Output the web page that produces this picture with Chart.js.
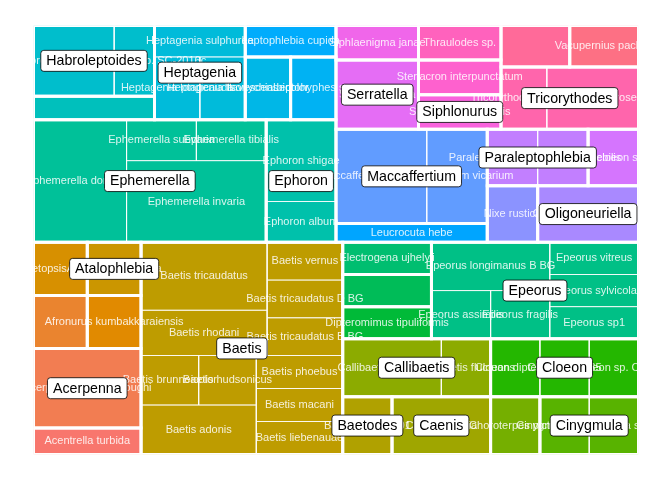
<!DOCTYPE html>
<html>
<head>
<meta charset="utf-8">
<script src="https://cdn.jsdelivr.net/npm/chart.js@4.4.1/dist/chart.umd.min.js"></script>
<style>
  html, body { margin: 0; padding: 0; background: #fff; }
  #wrap { width: 672px; height: 480px; }
</style>
</head>
<body>
<div id="wrap"><canvas id="treemap" width="672" height="480"></canvas></div>
<script>
// genera, alphabetical (this order drives the hue palette)
const genera = [
  'Acentrella', 'Acerpenna', 'Adenophlebia', 'Afronurus', 'Ameletopsis', 'Atalophlebia',
  'Baetis', 'Baetodes', 'Caenis', 'Callibaetis', 'Choroterpes', 'Cinygmula', 'Cloeon',
  'Dipteromimus', 'Drunella', 'Electrogena', 'Epeorus', 'Ephemerella', 'Ephoron',
  'Eurylophella', 'Habroleptoides', 'Heptagenia', 'Isonychia', 'Leptohyphes', 'Leptophlebia',
  'Leucrocuta', 'Maccaffertium', 'Nixe', 'Oligoneuriella', 'Paraleptophlebia', 'Procloeon',
  'Serratella', 'Siphlaenigma', 'Siphlonurus', 'Stenacron', 'Thraulodes', 'Tricorythodes',
  'Ulmeritoides', 'Vacupernius'
];

// one tile per species (the first word is the genus)
const species = [
  'Habroleptoides confusa', 'Habroleptoides sp. SC-2016c', 'Eurylophella',
  'Heptagenia sulphurea', 'Heptagenia longicauda', 'Heptagenia flavescens',
  'Leptophlebia cupida', 'Isonychia bicolor', 'Leptohyphes sp.',
  'Ephemerella dorothea', 'Ephemerella subvaria', 'Ephemerella tibialis', 'Ephemerella invaria',
  'Ephoron shigae', 'Ephoron album',
  'Siphlaenigma janae', 'Serratella ignita', 'Thraulodes sp.', 'Stenacron interpunctatum',
  'Siphlonurus lacustris', 'Ulmeritoides', 'Vacupernius packeri',
  'Tricorythodes allectus', 'Tricorythodes rosei',
  'Maccaffertium modestum', 'Maccaffertium vicarium', 'Leucrocuta hebe',
  'Paraleptophlebia adoptiva', 'Paraleptophlebia debilis', 'Procloeon sp.',
  'Nixe rustica', 'Oligoneuriella rhenana',
  'Ameletopsis perscitus', 'Atalophlebia ornata', 'Adenophlebia', 'Afronurus kumbakkaraiensis',
  'Acerpenna macdunnoughi', 'Acentrella turbida',
  'Baetis tricaudatus', 'Baetis rhodani', 'Baetis vernus', 'Baetis tricaudatus D BG',
  'Baetis tricaudatus B BG', 'Baetis brunneicolor', 'Baetis hudsonicus', 'Baetis adonis',
  'Baetis phoebus', 'Baetis macani', 'Baetis liebenauae',
  'Electrogena ujhelyii', 'Drunella', 'Dipteromimus tipuliformis',
  'Epeorus longimanus B BG', 'Epeorus assimilis', 'Epeorus fragilis',
  'Epeorus vitreus', 'Epeorus sylvicola', 'Epeorus sp1',
  'Callibaetis ferrugineus', 'Callibaetis fluctuans', 'Baetodes sp. B01', 'Caenis horaria',
  'Cloeon dipterum', 'Cloeon sp. 035', 'Cloeon sp. CL1',
  'Choroterpes picteti', 'Cinygmula ramaleyi', 'Cinygmula sp.'
];
const records = [
  2, 1, 1,
  1, 1, 1,
  1, 1, 1,
  4, 1, 1, 4,
  2, 1,
  1, 2, 1, 1,
  1, 1, 1,
  1, 2,
  3, 2, 1,
  1, 1, 1,
  1, 2,
  1, 1, 1, 1,
  3, 1,
  3, 2, 1, 1,
  1, 1, 1, 2,
  1, 1, 1,
  1, 1, 1,
  2, 1, 1,
  1, 1, 1,
  2, 1, 1, 2,
  1, 1, 1,
  1, 1, 1
];

// tiles that carry no species text in the figure
const noText = ['Eurylophella', 'Ulmeritoides', 'Adenophlebia', 'Drunella'];

// genera that get a boxed label
const labelled = [
  'Habroleptoides', 'Heptagenia', 'Ephemerella', 'Ephoron', 'Serratella', 'Siphlonurus',
  'Tricorythodes', 'Maccaffertium', 'Paraleptophlebia', 'Oligoneuriella', 'Atalophlebia',
  'Acerpenna', 'Baetis', 'Epeorus', 'Callibaetis', 'Cloeon', 'Baetodes', 'Caenis', 'Cinygmula'
];

// nesting of the tiles: 'h' splits left to right, 'v' top to bottom
const arrangement = ['v',
  ['h',
    ['v',
      ['h',
        ['v', ['h', 'Habroleptoides confusa', 'Habroleptoides sp. SC-2016c'], 'Eurylophella'],
        ['v', 'Heptagenia sulphurea', ['h', 'Heptagenia longicauda', 'Heptagenia flavescens']],
        ['v', 'Leptophlebia cupida', ['h', 'Isonychia bicolor', 'Leptohyphes sp.']]
      ],
      ['h',
        ['h', 'Ephemerella dorothea',
          ['v', ['h', 'Ephemerella subvaria', 'Ephemerella tibialis'], 'Ephemerella invaria']],
        ['v', 'Ephoron shigae', 'Ephoron album']
      ]
    ],
    ['v',
      ['h',
        ['v', 'Siphlaenigma janae', 'Serratella ignita'],
        ['v', 'Thraulodes sp.', 'Stenacron interpunctatum', 'Siphlonurus lacustris'],
        ['v', ['h', 'Ulmeritoides', 'Vacupernius packeri'],
              ['h', 'Tricorythodes allectus', 'Tricorythodes rosei']]
      ],
      ['h',
        ['v', ['h', 'Maccaffertium modestum', 'Maccaffertium vicarium'], 'Leucrocuta hebe'],
        ['v', ['h', 'Paraleptophlebia adoptiva', 'Paraleptophlebia debilis', 'Procloeon sp.'],
              ['h', 'Nixe rustica', 'Oligoneuriella rhenana']]
      ]
    ]
  ],
  ['h',
    ['v', ['h', 'Ameletopsis perscitus', 'Atalophlebia ornata'],
          ['h', 'Adenophlebia', 'Afronurus kumbakkaraiensis'],
          'Acerpenna macdunnoughi', 'Acentrella turbida'],
    ['v',
      ['h', ['v', 'Baetis tricaudatus', 'Baetis rhodani'],
            ['v', 'Baetis vernus', 'Baetis tricaudatus D BG', 'Baetis tricaudatus B BG']],
      ['h', ['v', ['h', 'Baetis brunneicolor', 'Baetis hudsonicus'], 'Baetis adonis'],
            ['v', 'Baetis phoebus', 'Baetis macani', 'Baetis liebenauae']]
    ],
    ['v',
      ['h',
        ['v', 'Electrogena ujhelyii', 'Drunella', 'Dipteromimus tipuliformis'],
        ['h', ['v', 'Epeorus longimanus B BG', ['h', 'Epeorus assimilis', 'Epeorus fragilis']],
              ['v', 'Epeorus vitreus', 'Epeorus sylvicola', 'Epeorus sp1']]
      ],
      ['h',
        ['v', ['h', 'Callibaetis ferrugineus', 'Callibaetis fluctuans'],
              ['h', 'Baetodes sp. B01', 'Caenis horaria']],
        ['v', ['h', 'Cloeon dipterum', 'Cloeon sp. 035', 'Cloeon sp. CL1'],
              ['h', 'Choroterpes picteti', 'Cinygmula ramaleyi', 'Cinygmula sp.']]
      ]
    ]
  ]
];

// ggplot-style hue palette (polar LUV -> sRGB)
function hcl(h, c, l) {
  const rad = h * Math.PI / 180;
  const u = c * Math.cos(rad), v = c * Math.sin(rad);
  const Xn = 95.047, Yn = 100, Zn = 108.883;
  const un = 4 * Xn / (Xn + 15 * Yn + 3 * Zn), vn = 9 * Yn / (Xn + 15 * Yn + 3 * Zn);
  const Y = Yn * (l > 8 ? Math.pow((l + 16) / 116, 3) : l / 903.3);
  const up = u / (13 * l) + un, vp = v / (13 * l) + vn;
  const X = 9 * Y * up / (4 * vp);
  const Z = -X / 3 - 5 * Y + 3 * Y / vp;
  const lin = [
    3.240479 * X - 1.537150 * Y - 0.498535 * Z,
    -0.969256 * X + 1.875992 * Y + 0.041556 * Z,
    0.055648 * X - 0.204043 * Y + 1.057311 * Z
  ].map(t => t / 100);
  const gam = t => t > 0.00304 ? 1.055 * Math.pow(t, 1 / 2.4) - 0.055 : 12.92 * t;
  return 'rgb(' + lin.map(t => Math.round(255 * Math.min(1, Math.max(0, gam(t))))).join(',') + ')';
}
const genusColour = {};
genera.forEach((g, i) => { genusColour[g] = hcl(15 + 360 * i / genera.length, 100, 65); });

const countOf = {};
species.forEach((s, i) => { countOf[s] = records[i]; });
const genusOf = s => s.split(' ')[0];

function weight(node) {
  if (typeof node === 'string') return countOf[node];
  return node.slice(1).reduce((sum, k) => sum + weight(k), 0);
}

// slice the unit square following the arrangement, sizes from the record counts
function place(node, x0, y0, x1, y1, out) {
  if (typeof node === 'string') { out.push({ id: node, x0, y0, x1, y1 }); return; }
  const dir = node[0];
  const total = weight(node);
  let acc = 0;
  node.slice(1).forEach(k => {
    const a = acc / total, b = (acc + weight(k)) / total;
    if (dir === 'h') place(k, x0 + (x1 - x0) * a, y0, x0 + (x1 - x0) * b, y1, out);
    else place(k, x0, y0 + (y1 - y0) * a, x1, y0 + (y1 - y0) * b, out);
    acc += weight(k);
  });
}
const tiles = [];
place(arrangement, 0, 0, 1, 1, tiles);

// genus blocks = bounding box of their tiles
const blocks = {};
tiles.forEach(t => {
  const g = genusOf(t.id);
  const b = blocks[g] || (blocks[g] = { x0: 1, y0: 1, x1: 0, y1: 0 });
  b.x0 = Math.min(b.x0, t.x0); b.y0 = Math.min(b.y0, t.y0);
  b.x1 = Math.max(b.x1, t.x1); b.y1 = Math.max(b.y1, t.y1);
});

const outline = r => [
  { x: r.x0, y: r.y0 }, { x: r.x1, y: r.y0 }, { x: r.x1, y: r.y1 },
  { x: r.x0, y: r.y1 }, { x: r.x0, y: r.y0 }
];

const frameSets = Object.keys(blocks).map(g => ({
  data: outline(blocks[g]),
  borderColor: '#ffffff',
  borderWidth: 3,
  borderCapStyle: 'square',
  fill: false,
  order: 0
}));
const tileSets = tiles.map(t => ({
  data: outline(t),
  backgroundColor: genusColour[genusOf(t.id)],
  borderColor: 'rgba(255,255,255,0.7)',
  borderWidth: 1,
  fill: 'shape',
  order: 1
}));

const textPlugin = {
  id: 'treemapText',
  afterDatasetsDraw(chart) {
    const { ctx, chartArea } = chart;
    const xs = chart.scales.x, ys = chart.scales.y;
    ctx.save();
    ctx.beginPath();
    ctx.rect(chartArea.left, chartArea.top, chartArea.right - chartArea.left, chartArea.bottom - chartArea.top);
    ctx.clip();
    ctx.textAlign = 'center';
    ctx.textBaseline = 'middle';

    // species names
    ctx.font = '11px "Liberation Sans", Arial, sans-serif';
    ctx.fillStyle = 'rgba(255,255,255,0.85)';
    tiles.forEach(t => {
      if (noText.includes(t.id)) return;
      const cx = xs.getPixelForValue((t.x0 + t.x1) / 2);
      const cy = ys.getPixelForValue((t.y0 + t.y1) / 2);
      ctx.fillText(t.id, cx, cy);
    });

    // genus labels
    ctx.font = '14.2px "Liberation Sans", Arial, sans-serif';
    labelled.forEach(g => {
      const b = blocks[g];
      const cx = xs.getPixelForValue((b.x0 + b.x1) / 2);
      const cy = ys.getPixelForValue((b.y0 + b.y1) / 2);
      const w = ctx.measureText(g).width + 11;
      const h = 21;
      const x = cx - w / 2, y = cy - h / 2, r = 3;
      ctx.beginPath();
      ctx.moveTo(x + r, y);
      ctx.arcTo(x + w, y, x + w, y + h, r);
      ctx.arcTo(x + w, y + h, x, y + h, r);
      ctx.arcTo(x, y + h, x, y, r);
      ctx.arcTo(x, y, x + w, y, r);
      ctx.closePath();
      ctx.fillStyle = '#ffffff';
      ctx.fill();
      ctx.lineWidth = 0.8;
      ctx.strokeStyle = '#000000';
      ctx.stroke();
      ctx.fillStyle = '#000000';
      ctx.fillText(g, cx, cy + 0.5);
    });
    ctx.restore();
  }
};

new Chart(document.getElementById('treemap'), {
  type: 'line',
  data: { datasets: frameSets.concat(tileSets) },
  options: {
    responsive: false,
    animation: false,
    events: [],
    devicePixelRatio: 1,
    layout: { padding: { left: 33.5, right: 33.5, top: 25.5, bottom: 25.5 } },
    elements: { point: { radius: 0, hoverRadius: 0 }, line: { tension: 0 } },
    scales: {
      x: { type: 'linear', min: 0, max: 1, display: false },
      y: { type: 'linear', min: 0, max: 1, reverse: true, display: false }
    },
    plugins: {
      legend: { display: false },
      tooltip: { enabled: false },
      filler: { drawTime: 'beforeDatasetsDraw' }
    }
  },
  plugins: [textPlugin]
});
</script>
</body>
</html>
